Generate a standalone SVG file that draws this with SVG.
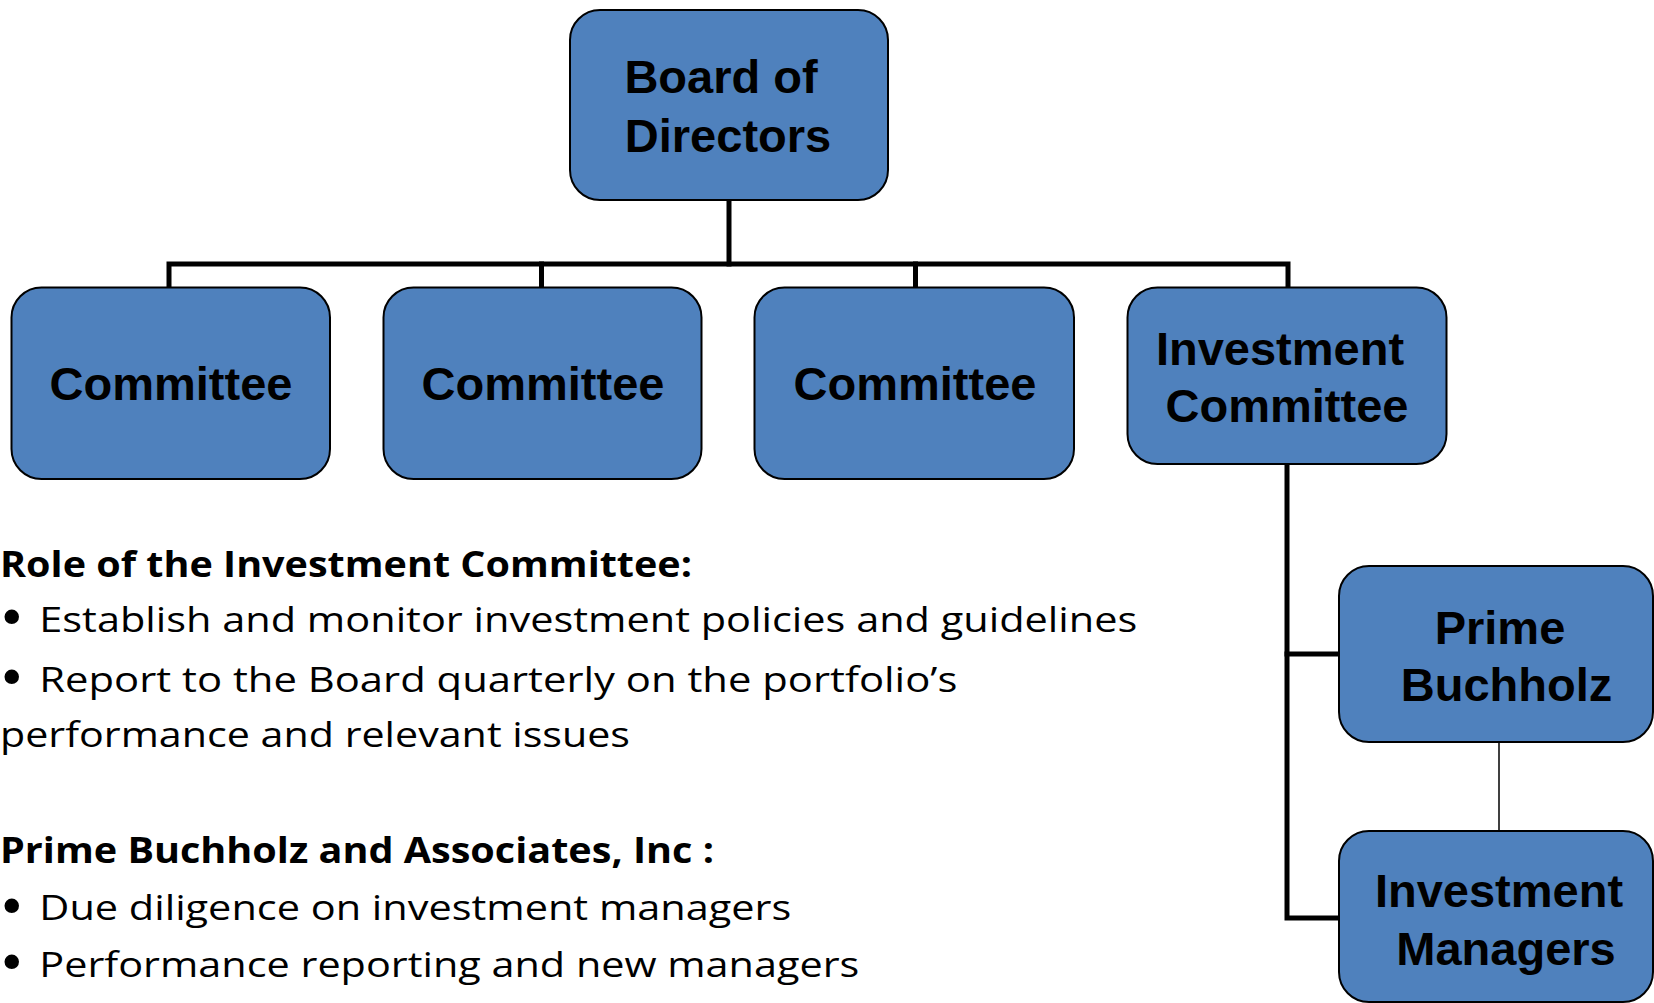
<svg xmlns="http://www.w3.org/2000/svg" width="1654" height="1003" viewBox="0 0 1654 1003">
<style>
.box{fill:#4F81BD;stroke:#000;stroke-width:2}
.lbl{font-family:"Liberation Sans",Arial,sans-serif;font-weight:bold;font-size:47px;fill:#000;text-anchor:middle}
.con{fill:none;stroke:#000;stroke-width:5;stroke-linejoin:miter;stroke-linecap:square}
.thin{fill:none;stroke:#000;stroke-width:1.5}
.head{font-family:"Open Sans","Noto Sans",sans-serif;font-weight:bold;font-size:36px;fill:#000}
.body{font-family:"Open Sans","Noto Sans",sans-serif;font-size:34px;fill:#000}
.bul{font-family:"DejaVu Sans",sans-serif;font-size:50px;fill:#000}
</style>
<rect width="1654" height="1003" fill="#fff"/>
<g id="connectors">
<path class="con" d="M729 200 V264"/>
<path class="con" d="M169 287 V264 H1288 V287"/>
<path class="con" d="M541.5 264 V287"/>
<path class="con" d="M915.5 264 V287"/>
<path class="con" d="M1287 464 V918 H1338"/>
<path class="con" d="M1287 654 H1338"/>
<path class="thin" d="M1499 742 V831"/>
</g>
<g id="board">
<rect class="box" x="570" y="10" width="318" height="190" rx="30"/>
<text class="lbl" x="721" y="93">Board of</text>
<text class="lbl" x="728" y="152">Directors</text>
</g>
<g id="committee1">
<rect class="box" x="11.5" y="287.5" width="318.5" height="191.5" rx="30"/>
<text class="lbl" x="171" y="400">Committee</text>
</g>
<g id="committee2">
<rect class="box" x="383.5" y="287.5" width="318" height="191.5" rx="30"/>
<text class="lbl" x="543" y="400">Committee</text>
</g>
<g id="committee3">
<rect class="box" x="754.5" y="287.5" width="319.5" height="191.5" rx="30"/>
<text class="lbl" x="915" y="400">Committee</text>
</g>
<g id="investment-committee">
<rect class="box" x="1127.5" y="287.5" width="319" height="176.5" rx="30"/>
<text class="lbl" x="1280" y="365">Investment</text>
<text class="lbl" x="1287" y="421.5">Committee</text>
</g>
<g id="prime-buchholz">
<rect class="box" x="1339" y="566" width="314" height="176" rx="30"/>
<text class="lbl" x="1500" y="644">Prime</text>
<text class="lbl" x="1506.5" y="700.5">Buchholz</text>
</g>
<g id="investment-managers">
<rect class="box" x="1339" y="831" width="314" height="171" rx="30"/>
<text class="lbl" x="1499" y="907">Investment</text>
<text class="lbl" x="1506" y="965">Managers</text>
</g>
<g id="notes">
<text class="head" x="0" y="576.5" textLength="692" lengthAdjust="spacingAndGlyphs">Role of the Investment Committee:</text>
<text class="bul" x="-3" y="635">•</text>
<text class="body" x="39.3" y="631.5" textLength="1098" lengthAdjust="spacingAndGlyphs">Establish and monitor investment policies and guidelines</text>
<text class="bul" x="-3" y="695">•</text>
<text class="body" x="39.3" y="691.5" textLength="918" lengthAdjust="spacingAndGlyphs">Report to the Board quarterly on the portfolio’s</text>
<text class="body" x="0" y="746.5" textLength="630" lengthAdjust="spacingAndGlyphs">performance and relevant issues</text>
<text class="head" x="0" y="863.3" textLength="714" lengthAdjust="spacingAndGlyphs">Prime Buchholz and Associates, Inc :</text>
<text class="bul" x="-3" y="923.5">•</text>
<text class="body" x="39.3" y="920" textLength="752" lengthAdjust="spacingAndGlyphs">Due diligence on investment managers</text>
<text class="bul" x="-3" y="980.2">•</text>
<text class="body" x="39.3" y="976.7" textLength="820" lengthAdjust="spacingAndGlyphs">Performance reporting and new managers</text>
</g>
</svg>
